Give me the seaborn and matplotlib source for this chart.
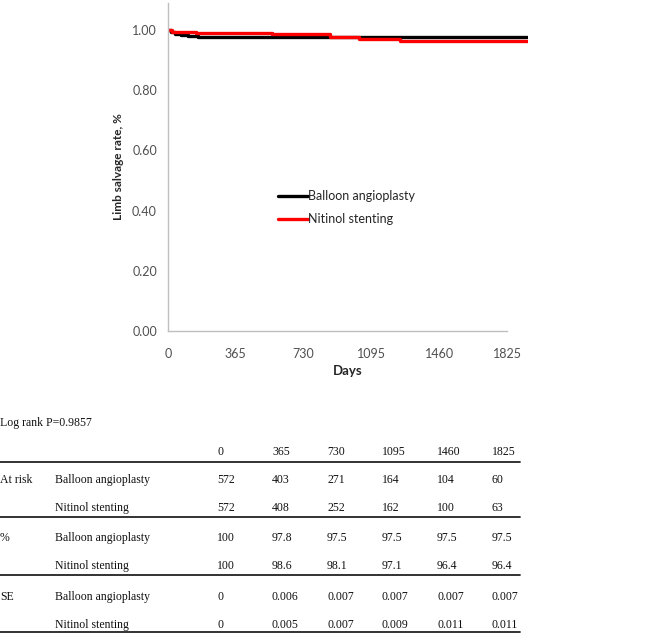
import matplotlib
matplotlib.use('Agg')
import matplotlib.pyplot as plt
import seaborn as sns
import pandas as pd
from matplotlib.lines import Line2D

# ─────────────────────────────────────────────
# Data
# ─────────────────────────────────────────────
balloon_days = [0, 15, 40, 70, 110, 160, 420, 1935]
balloon_surv = [1.000, 0.993, 0.988, 0.983, 0.980, 0.978, 0.976, 0.976]

stent_days = [0, 20, 60, 150, 330, 560, 870, 1030, 1250, 1935]
stent_surv = [1.000, 0.995, 0.992, 0.990, 0.989, 0.986, 0.976, 0.971, 0.964, 0.964]

groups = ['Balloon angioplasty', 'Nitinol stenting']
colors = ['#000000', '#ff0000']

x_ticks = [0, 365, 730, 1095, 1460, 1825]
y_ticks = [0.0, 0.2, 0.4, 0.6, 0.8, 1.0]

table_cols = ['0', '365', '730', '1095', '1460', '1825']
at_risk_balloon = ['572', '403', '271', '164', '104', '60']
at_risk_stent = ['572', '408', '252', '162', '100', '63']
pct_balloon = ['100', '97.8', '97.5', '97.5', '97.5', '97.5']
pct_stent = ['100', '98.6', '98.1', '97.1', '96.4', '96.4']
se_balloon = ['0', '0.006', '0.007', '0.007', '0.007', '0.007']
se_stent = ['0', '0.005', '0.007', '0.009', '0.011', '0.011']
log_rank = 'Log rank P=0.9857'

df = pd.concat([
    pd.DataFrame({'days': balloon_days, 'surv': balloon_surv, 'group': groups[0]}),
    pd.DataFrame({'days': stent_days, 'surv': stent_surv, 'group': groups[1]}),
])

# ─────────────────────────────────────────────
# Figure
# ─────────────────────────────────────────────
sns.set_style('white')
W, H = 647, 633
fig = plt.figure(figsize=(W / 100, H / 100), dpi=100)

x0_px, x1825_px, y0_px, y1_px = 168, 507, 331, 30
px_per_day = (x1825_px - x0_px) / 1825
px_per_unit = (y0_px - y1_px)
xmax, ymax = 1940, 1.09
ax_left = x0_px / W
ax_w = xmax * px_per_day / W
ax_bottom = 1 - y0_px / H
ax_h = ymax * px_per_unit / H
ax = fig.add_axes([ax_left, ax_bottom, ax_w, ax_h])

sns.lineplot(data=df, x='days', y='surv', hue='group', palette=colors,
             drawstyle='steps-post', linewidth=2.4, ax=ax, legend=False,
             estimator=None, sort=False)

ax.set_xlim(0, xmax)
ax.set_ylim(0, ymax)
ax.set_xticks(x_ticks)
ax.set_yticks(y_ticks)
ax.set_yticklabels([f'{v:.2f}' for v in y_ticks])
ax.spines['bottom'].set_bounds(0, 1825)
for s in ['top', 'right']:
    ax.spines[s].set_visible(False)
for s in ['left', 'bottom']:
    ax.spines[s].set_color('#bfbfbf')
    ax.spines[s].set_linewidth(1.0)
ax.tick_params(axis='both', which='both', direction='out', length=4,
               color='#bfbfbf', labelsize=9, labelcolor='#505050')
ax.tick_params(axis='x', pad=8)
ax.tick_params(axis='y', pad=4)
for lbl in ax.get_xticklabels() + ax.get_yticklabels():
    lbl.set_family('Lato')
ax.set_xlabel('Days', fontsize=9.5, fontweight='bold', family='Lato', labelpad=4)
ax.set_ylabel('Limb salvage rate, %', fontsize=8.5, fontweight='bold', family='Lato', labelpad=6)

handles = [Line2D([], [], color=c, lw=2.4) for c in colors]
ax.legend(handles, groups, frameon=False, loc='upper left',
          bbox_to_anchor=((273 - x0_px) / (ax_w * W), 1 - (185 - 3) / (ax_h * H)),
          handlelength=2.4, handletextpad=0.0, labelspacing=0.9,
          borderaxespad=0, prop={'family': 'Lato', 'size': 9})

# ─────────────────────────────────────────────
# Risk table (drawn in pixel coordinates)
# ─────────────────────────────────────────────
def fy(y):
    return 1 - y / H

serif = {'family': 'Liberation Serif', 'size': 8.5, 'color': '#111111', 'va': 'center'}
col_x = [217, 272, 327, 382, 437, 492]

fig.text(0, fy(423), log_rank, **serif)
for x, lab in zip(col_x, table_cols):
    fig.text(x / W, fy(452), lab, **serif)

rows = [
    ('At risk', at_risk_balloon, at_risk_stent, 480, 508),
    ('%', pct_balloon, pct_stent, 538, 566),
    ('SE', se_balloon, se_stent, 597, 625),
]
for head, vals_b, vals_s, yb, ys in rows:
    fig.text(0, fy(yb), head, **serif)
    fig.text(55 / W, fy(yb), groups[0], **serif)
    fig.text(55 / W, fy(ys), groups[1], **serif)
    for x, vb, vs in zip(col_x, vals_b, vals_s):
        fig.text(x / W, fy(yb), vb, **serif)
        fig.text(x / W, fy(ys), vs, **serif)

for yl in [462, 517, 575, 632]:
    fig.add_artist(Line2D([0, 520 / W], [fy(yl), fy(yl)], color='#222222', lw=1.3))

fig.savefig('out.png', dpi=100)
